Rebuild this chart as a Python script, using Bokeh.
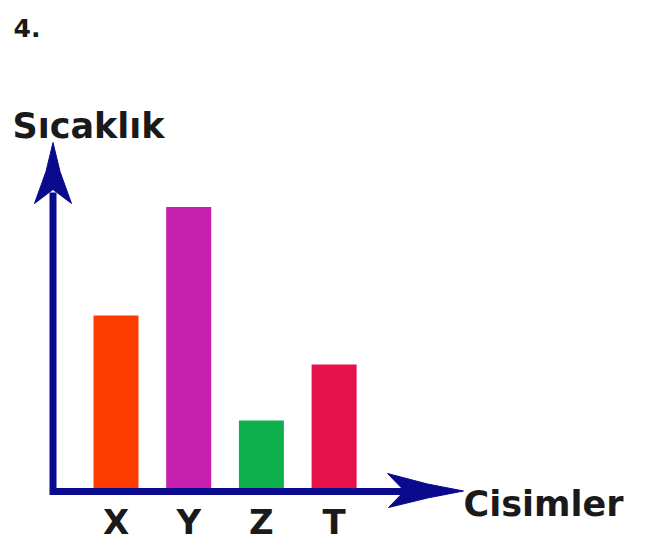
from bokeh.plotting import figure
from bokeh.models import Range1d, ColumnDataSource
from bokeh.core.properties import value
from bokeh.embed import file_html
from bokeh.resources import INLINE

# ---- data ----
categories = ["X", "Y", "Z", "T"]
temps = [5.0, 8.1, 2.0, 3.6]
bar_colors = ["#FF3C00", "#C71FAE", "#0DB04B", "#E6104B"]
y_title = "Sıcaklık"
x_title = "Cisimler"
question = "4."

# ---- layout constants (pixel geometry of the page) ----
W, H = 648, 549
ORIGIN = 0                    # where the canvas sits on the page
X0_PX, X_STEP = 115.5, 72.7   # pixel centre of first category, spacing
Y0_PX, Y_STEP = 490.0, 35.0   # pixel of value 0, pixels per unit
AXIS_COLOR = "#0A0A8C"
TEXT_COLOR = "#1A1A1A"
FONT = "DejaVu Sans"


def dx(px):
    return (px - X0_PX) / X_STEP


def dy(py):
    return (Y0_PX - py) / Y_STEP


p = figure(width=W, height=H, output_backend="svg", toolbar_location=None,
           x_range=Range1d(dx(ORIGIN), dx(ORIGIN + W)),
           y_range=Range1d(dy(ORIGIN + H), dy(ORIGIN)),
           x_axis_location=None, y_axis_location=None,
           min_border_left=0, min_border_right=0, min_border_top=0, min_border_bottom=0,
           outline_line_color=None, background_fill_color="white",
           border_fill_color="white")
p.grid.visible = False

src = ColumnDataSource(dict(x=list(range(len(categories))), top=temps,
                            color=bar_colors, label=categories))

p.vbar(x="x", top="top", bottom=0, width=45 / X_STEP, fill_color="color",
       line_color=None, source=src)

# axes (L shape)
p.line(x=[dx(52.5), dx(52.5), dx(406)], y=[dy(192), dy(491), dy(491)],
       line_width=7, line_color=AXIS_COLOR, line_join="miter", line_cap="butt")

# arrow heads
vx = [52.5, 45.5, 34, 52.5, 71, 59.5]
vy = [142, 171, 203, 189, 203, 171]
p.patch(x=[dx(v) for v in vx], y=[dy(v) for v in vy], fill_color=AXIS_COLOR,
        line_color=AXIS_COLOR, line_width=1)
hx = [463, 427, 387, 404, 388, 427]
hy = [490.5, 483.5, 473, 490.5, 507, 497.5]
p.patch(x=[dx(v) for v in hx], y=[dy(v) for v in hy], fill_color=AXIS_COLOR,
        line_color=AXIS_COLOR, line_width=1)

# category labels
p.text(x="x", y=dy(521), text="label", source=src, text_align="center",
       text_baseline="middle", text_font=value(FONT), text_font_style="bold",
       text_font_size="34px", text_color=TEXT_COLOR)

# titles
p.text(x=[dx(13)], y=[dy(27)], text=[question], text_align="left",
       text_baseline="alphabetic", text_font=value(FONT), text_font_style="bold",
       text_font_size="25px", text_color=TEXT_COLOR)
p.text(x=[dx(12)], y=[dy(125)], text=[y_title], text_align="left",
       text_baseline="alphabetic", text_font=value(FONT), text_font_style="bold",
       text_font_size="35px", text_color=TEXT_COLOR)
p.text(x=[dx(463)], y=[dy(503)], text=[x_title], text_align="left",
       text_baseline="alphabetic", text_font=value(FONT), text_font_style="bold",
       text_font_size="35px", text_color=TEXT_COLOR)

open("out.html", "w").write(file_html(p, INLINE))
